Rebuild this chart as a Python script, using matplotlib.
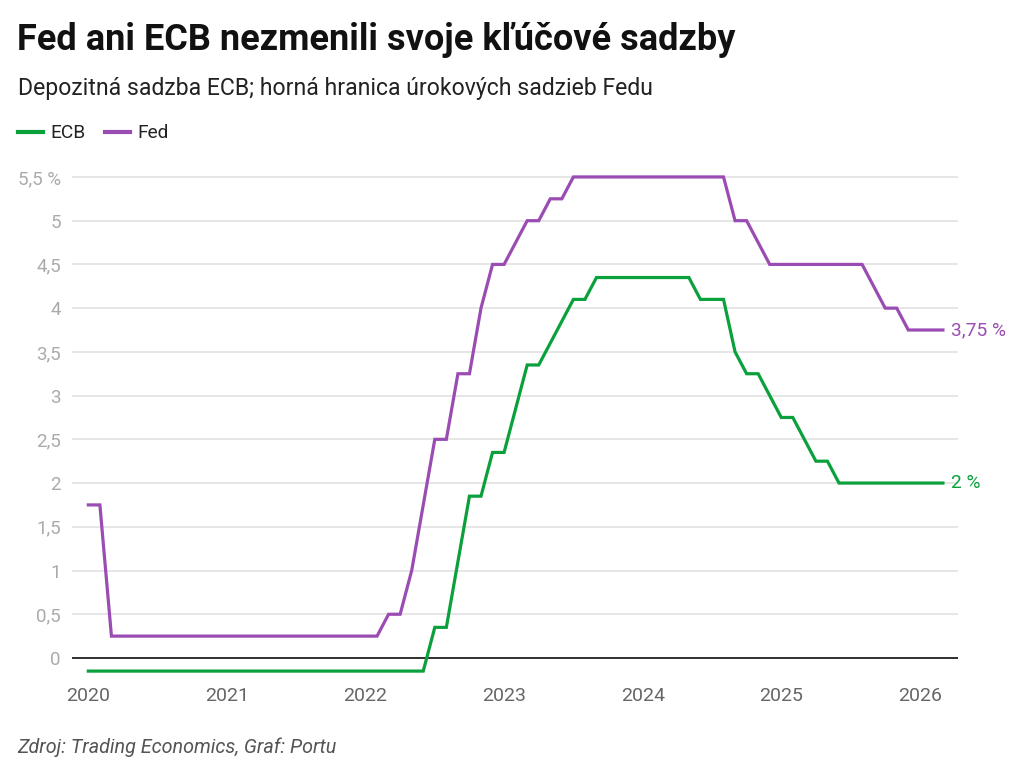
import matplotlib
matplotlib.use("Agg")
import matplotlib.pyplot as plt
from matplotlib.lines import Line2D

plt.rcParams["font.family"] = ["Roboto", "DejaVu Sans"]

# monthly values, Jan 2020 .. Mar 2026
start_year = 2020
fed = [1.75, 1.75, 0.25, 0.25, 0.25, 0.25, 0.25, 0.25, 0.25, 0.25, 0.25, 0.25,
       0.25, 0.25, 0.25, 0.25, 0.25, 0.25, 0.25, 0.25, 0.25, 0.25, 0.25, 0.25,
       0.25, 0.25, 0.5, 0.5, 1.0, 1.75, 2.5, 2.5, 3.25, 3.25, 4.0, 4.5,
       4.5, 4.75, 5.0, 5.0, 5.25, 5.25, 5.5, 5.5, 5.5, 5.5, 5.5, 5.5,
       5.5, 5.5, 5.5, 5.5, 5.5, 5.5, 5.5, 5.5, 5.0, 5.0, 4.75, 4.5,
       4.5, 4.5, 4.5, 4.5, 4.5, 4.5, 4.5, 4.5, 4.25, 4.0, 4.0, 3.75,
       3.75, 3.75, 3.75]
ecb = [-0.15, -0.15, -0.15, -0.15, -0.15, -0.15, -0.15, -0.15, -0.15, -0.15, -0.15, -0.15,
       -0.15, -0.15, -0.15, -0.15, -0.15, -0.15, -0.15, -0.15, -0.15, -0.15, -0.15, -0.15,
       -0.15, -0.15, -0.15, -0.15, -0.15, -0.15, 0.35, 0.35, 1.1, 1.85, 1.85, 2.35,
       2.35, 2.85, 3.35, 3.35, 3.6, 3.85, 4.1, 4.1, 4.35, 4.35, 4.35, 4.35,
       4.35, 4.35, 4.35, 4.35, 4.35, 4.1, 4.1, 4.1, 3.5, 3.25, 3.25, 3.0,
       2.75, 2.75, 2.5, 2.25, 2.25, 2.0, 2.0, 2.0, 2.0, 2.0, 2.0, 2.0,
       2.0, 2.0, 2.0]
months = [start_year + i / 12 for i in range(len(fed))]

year_ticks = [2020, 2021, 2022, 2023, 2024, 2025, 2026]
y_ticks = [0, 0.5, 1, 1.5, 2, 2.5, 3, 3.5, 4, 4.5, 5, 5.5]
y_labels = ["0", "0,5", "1", "1,5", "2", "2,5", "3", "3,5", "4", "4,5", "5", "5,5 %"]

GREEN = "#0aa13c"
PURPLE = "#9a4cb3"

fig = plt.figure(figsize=(10.24, 7.66), dpi=100)
ax = fig.add_axes([0.0703, 0.1182, 0.8652, 0.6565])

ax.plot(months, ecb, color=GREEN, lw=2.3, solid_joinstyle="miter", zorder=3, clip_on=False)
ax.plot(months, fed, color=PURPLE, lw=2.3, solid_joinstyle="miter", zorder=3, clip_on=False)

ax.set_xlim(2019.882, 2026.275)
ax.set_ylim(-0.2, 5.55)
ax.set_xticks(year_ticks)
ax.set_xticklabels([str(y) for y in year_ticks])
ax.set_yticks(y_ticks)
ax.set_yticklabels(y_labels)
ax.tick_params(axis="x", length=0, pad=8, labelsize=14, labelcolor="#666666")
ax.tick_params(axis="y", length=0, pad=8, labelsize=13.5, labelcolor="#aaaaaa")
for s in ax.spines.values():
    s.set_visible(False)
ax.grid(axis="y", color="#e4e4e4", lw=1.3, zorder=0)
ax.axhline(0, color="#222222", lw=1.3, zorder=2)

ax.annotate("3,75 %", (months[-1], fed[-1]), xytext=(6, 0), textcoords="offset points",
            va="center", ha="left", color=PURPLE, fontsize=13.8, annotation_clip=False)
ax.annotate("2 %", (months[-1], ecb[-1]), xytext=(6, 0), textcoords="offset points",
            va="center", ha="left", color=GREEN, fontsize=13.8, annotation_clip=False)

fig.text(0.0166, 0.948, "Fed ani ECB nezmenili svoje kľúčové sadzby", fontsize=26,
         fontweight="bold", color="#111111", va="center")
fig.text(0.0176, 0.884, "Depozitná sadzba ECB; horná hranica úrokových sadzieb Fedu",
         fontsize=16.6, color="#222222", va="center")

handles = [Line2D([], [], color=GREEN, lw=3), Line2D([], [], color=PURPLE, lw=3)]
fig.legend(handles, ["ECB", "Fed"], loc="center left", bbox_to_anchor=(0.001, 0.826),
           ncol=2, frameon=False, fontsize=13.8, handlelength=1.3, handletextpad=0.4,
           columnspacing=1.0, labelcolor="#222222")

fig.text(0.0166, 0.024, "Zdroj: Trading Economics, Graf: Portu", fontsize=14.2,
         style="italic", color="#555555", va="center")

fig.savefig("out.png", dpi=100)
